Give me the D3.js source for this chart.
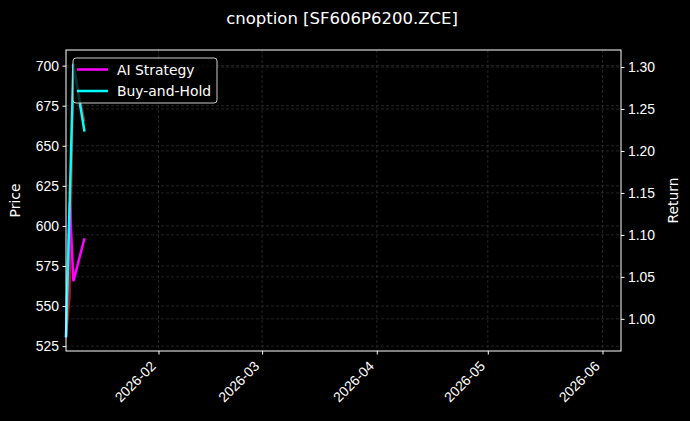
<!DOCTYPE html>
<html>
<head>
<meta charset="utf-8">
<script src="https://cdn.jsdelivr.net/npm/d3@7"></script>
<style>
  html, body { margin: 0; padding: 0; background: #000; }
  svg { display: block; font-family: "DejaVu Sans", sans-serif; }
</style>
</head>
<body>
<div id="chart"></div>
<script>
const width = 690;
const height = 421;
const margin = { top: 50, right: 69, bottom: 70, left: 66 };

// data
const dates = ["2026-01-07", "2026-01-08", "2026-01-09", "2026-01-12"];
const price = [530.5, 555.3, 701.2, 665.0];
const aiStrategy = [0.978, 1.139, 1.045, 1.096];
const buyHold = [0.978, 1.139, 1.304, 1.223];
const xRange = ["2026-01-07", "2026-06-06"];
const priceTicks = [525, 550, 575, 600, 625, 650, 675, 700];
const returnTicks = [1.0, 1.05, 1.1, 1.15, 1.2, 1.25, 1.3];
const monthTicks = ["2026-02-01", "2026-03-01", "2026-04-01", "2026-05-01", "2026-06-01"];

const parse = d3.timeParse("%Y-%m-%d");
const x0 = margin.left;
const x1 = width - margin.right;
const y0 = height - margin.bottom;
const y1 = margin.top;

// matplotlib style 5% padding on the y axes
function padded(values) {
  const [lo, hi] = d3.extent(values);
  const pad = (hi - lo) * 0.05;
  return [lo - pad, hi + pad];
}

const xScale = d3.scaleTime()
  .domain(xRange.map(parse))
  .range([x0, x1]);

const yPrice = d3.scaleLinear()
  .domain(padded(price))
  .range([y0, y1]);

const yReturn = d3.scaleLinear()
  .domain(padded(aiStrategy.concat(buyHold)))
  .range([y0, y1]);

const svg = d3.select("#chart")
  .append("svg")
  .attr("width", width)
  .attr("height", height);

svg.append("rect")
  .attr("width", width)
  .attr("height", height)
  .attr("fill", "#000");

// grid
const grid = svg.append("g").attr("stroke", "#555").attr("stroke-width", 0.6)
  .attr("stroke-dasharray", "3,2").attr("opacity", 0.7);
grid.selectAll(".gx").data(monthTicks.map(parse)).enter().append("line")
  .attr("x1", (d) => xScale(d)).attr("x2", (d) => xScale(d))
  .attr("y1", y1).attr("y2", y0);
grid.selectAll(".gp").data(priceTicks).enter().append("line")
  .attr("x1", x0).attr("x2", x1)
  .attr("y1", (d) => yPrice(d)).attr("y2", (d) => yPrice(d));
grid.selectAll(".gr").data(returnTicks).enter().append("line")
  .attr("x1", x0).attr("x2", x1)
  .attr("y1", (d) => yReturn(d)).attr("y2", (d) => yReturn(d));

// lines
const points = dates.map(parse);
const lineOf = (vals, scale) => d3.line()
  .x((d, i) => xScale(points[i]))
  .y((d) => scale(d))(vals);

svg.append("path")
  .attr("d", lineOf(price, yPrice))
  .attr("fill", "none")
  .attr("stroke", "#e01818")
  .attr("stroke-width", 2)
  .attr("opacity", 0.85);

svg.append("path")
  .attr("d", lineOf(aiStrategy, yReturn))
  .attr("fill", "none")
  .attr("stroke", "#ff00ff")
  .attr("stroke-width", 2.5);

svg.append("path")
  .attr("d", lineOf(buyHold, yReturn))
  .attr("fill", "none")
  .attr("stroke", "#00ffff")
  .attr("stroke-width", 2.5);

// axes
function styleAxis(g) {
  g.selectAll(".domain").remove();
  g.selectAll("line").attr("stroke", "#fff");
  g.selectAll("text").attr("fill", "#fff").style("font-size", "13.9px");
}

svg.append("g")
  .attr("transform", `translate(0, ${y0})`)
  .call(d3.axisBottom(xScale).tickValues(monthTicks.map(parse))
    .tickFormat(d3.timeFormat("%Y-%m")).tickSize(3.5).tickPadding(3.5))
  .call(styleAxis)
  .call((g) => g.selectAll("text")
    .attr("text-anchor", "end")
    .attr("dy", null)
    .attr("x", -2.3)
    .attr("y", 16)
    .attr("transform", "rotate(-45, -2.3, 16)"));

svg.append("g")
  .attr("transform", `translate(${x0}, 0)`)
  .call(d3.axisLeft(yPrice).tickValues(priceTicks).tickSize(3.5).tickPadding(3.5))
  .call(styleAxis);

svg.append("g")
  .attr("transform", `translate(${x1}, 0)`)
  .call(d3.axisRight(yReturn).tickValues(returnTicks)
    .tickFormat(d3.format(".2f")).tickSize(3.5).tickPadding(3.5))
  .call(styleAxis);

// frame
svg.append("rect")
  .attr("x", x0).attr("y", y1)
  .attr("width", x1 - x0).attr("height", y0 - y1)
  .attr("fill", "none").attr("stroke", "#fff").attr("stroke-width", 1);

// labels
svg.append("text")
  .attr("transform", `translate(20, ${(y0 + y1) / 2}) rotate(-90)`)
  .attr("text-anchor", "middle")
  .attr("fill", "#fff").style("font-size", "13.9px")
  .text("Price");

svg.append("text")
  .attr("transform", `translate(668, ${(y0 + y1) / 2}) rotate(-90)`)
  .attr("text-anchor", "middle")
  .attr("dy", "0.75em")
  .attr("fill", "#fff").style("font-size", "13.9px")
  .text("Return");

svg.append("text")
  .attr("x", 342).attr("y", 24.3)
  .attr("text-anchor", "middle")
  .attr("fill", "#fff").style("font-size", "16.5px")
  .text("cnoption [SF606P6200.ZCE]");

// legend
const legendItems = [
  { name: "AI Strategy", color: "#ff00ff" },
  { name: "Buy-and-Hold", color: "#00ffff" },
];
const legend = svg.append("g").attr("transform", `translate(${x0 + 7}, ${y1 + 8})`);
legend.append("rect")
  .attr("width", 144).attr("height", 45).attr("rx", 3)
  .attr("fill", "#000").attr("fill-opacity", 0.8)
  .attr("stroke", "#ccc").attr("stroke-width", 1);
const entry = legend.selectAll(".entry").data(legendItems).enter().append("g")
  .attr("transform", (d, i) => `translate(0, ${11.5 + i * 21.5})`);
entry.append("line")
  .attr("x1", 4).attr("x2", 35)
  .attr("stroke", (d) => d.color).attr("stroke-width", 2.5);
entry.append("text")
  .attr("x", 44).attr("dy", "0.36em")
  .attr("fill", "#fff").style("font-size", "13.9px")
  .text((d) => d.name);
</script>
</body>
</html>
